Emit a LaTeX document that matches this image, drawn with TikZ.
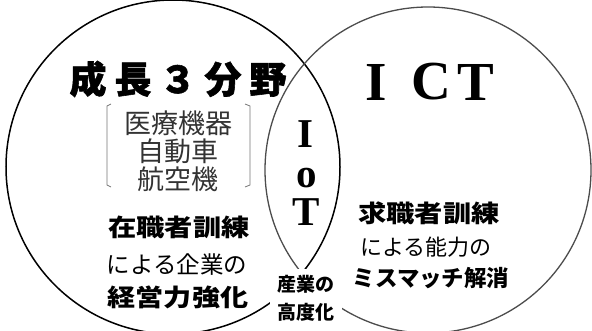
\documentclass[tikz,border=0pt]{standalone}
\usepackage{fontspec}
\newfontfamily\jp{Noto Sans CJK JP}
\newfontfamily\jph[BoldFeatures={FakeBold=1.5}]{Noto Sans CJK JP}
\newfontfamily\ser{Liberation Serif}
\begin{document}
\begin{tikzpicture}[x=1pt,y=-1pt,
  circL/.style={draw=black,line width=1.5pt},
  circR/.style={draw=black!70,line width=1.3pt},
  brk/.style={draw=black!55,line width=0.8pt},
  title/.style={inner sep=0pt,font=\jph\bfseries\fontsize{37}{37}\selectfont},
  items/.style={inner sep=0pt,align=center,text=black!80,font=\jp\fontsize{27}{28}\selectfont},
  jpbold/.style={inner sep=0pt,font=\jp\bfseries\fontsize{24}{24}\selectfont},
  jpreg/.style={inner sep=0pt,font=\jp\fontsize{23}{23}\selectfont},
  bigser/.style={inner sep=0pt,font=\ser\bfseries\fontsize{55}{55}\selectfont},
  midser/.style={inner sep=0pt,font=\ser\bfseries\fontsize{41}{41}\selectfont},
  maskbox/.style={fill=white,inner sep=0pt,minimum width=72pt,minimum height=58pt,align=center,font=\jp\bfseries\fontsize{19}{28}\selectfont}
]
\useasboundingbox (0,0) rectangle (592,331);
% circles
\draw[circL] (173,167) circle [radius=167pt];
\draw[circR] (428,170) circle [radius=163pt];
% left circle texts
\node[title] (title) at (178,79) {成\hspace{8pt}長\hspace{8pt}３\hspace{8pt}分\hspace{8pt}野};
\node[items] (items) at (178,151) {医療機器\\自動車\\航空機};
\draw[brk] (111,104) -- (107,106) -- (107,185) -- (111,187);
\draw[brk] (245,104) -- (250,106) -- (250,185) -- (245,187);
\node[jpbold] (l1) at (179,227) {\scalebox{1.18}[1]{在職者訓練}};
\node[jpreg,font=\jp\fontsize{23.5}{23.5}\selectfont] (l2) at (177,265) {による企業の};
\node[jpbold] (l3) at (178,297) {\scalebox{1.17}[1]{経営力強化}};
% right circle texts
\node[bigser] (ictI) at (376,82) {I};
\node[bigser] (ictC) at (431,82) {C};
\node[bigser] (ictT) at (476,82) {T};
\node[jpbold] (r1) at (429,213) {\scalebox{1.18}[1]{求職者訓練}};
\node[jpreg,font=\jp\fontsize{22}{22}\selectfont] (r2) at (426,247) {による能力の};
\node[jpbold,font=\jp\bfseries\fontsize{22.4}{22.4}\selectfont] (r3) at (431,278) {ミスマッチ解消};
% lens
\node[midser] (iotI) at (305,134) {I};
\node[midser] (iotO) at (307,178) {o};
\node[midser] (iotT) at (306,212) {T};
\node[maskbox] (ind) at (306,298) {産業の\\高度化};
\end{tikzpicture}
\end{document}
